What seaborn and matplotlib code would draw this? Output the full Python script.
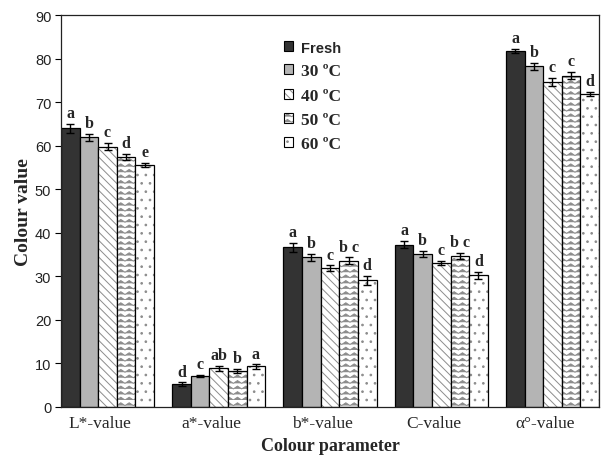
import warnings
warnings.filterwarnings("ignore")
import numpy as np
import pandas as pd
import matplotlib
matplotlib.use("Agg")
import matplotlib.pyplot as plt
from matplotlib import hatch as mhatch
from matplotlib.path import Path
from matplotlib.patches import Patch
import matplotlib.colors as mcolors
import seaborn as sns

# ---------------- data ----------------
parameters = ["L*-value", "a*-value", "b*-value", "C-value", "α°-value"]
treatments = ["Fresh", "30 ºC", "40 ºC", "50 ºC", "60 ºC"]
fresh_vals = [64.0, 5.3, 36.7, 37.3, 81.7]
t30_vals = [61.9, 7.1, 34.4, 35.2, 78.2]
t40_vals = [59.8, 8.9, 31.9, 33.1, 74.7]
t50_vals = [57.5, 8.3, 33.6, 34.7, 76.1]
t60_vals = [55.5, 9.3, 29.1, 30.3, 71.9]
fresh_err = [1.0, 0.4, 1.0, 0.9, 0.5]
t30_err = [0.8, 0.3, 0.8, 0.7, 0.8]
t40_err = [0.9, 0.6, 0.6, 0.5, 0.9]
t50_err = [0.7, 0.5, 0.8, 0.7, 0.9]
t60_err = [0.5, 0.5, 1.0, 0.8, 0.4]
fresh_let = ["a", "d", "a", "a", "a"]
t30_let = ["b", "c", "b", "b", "b"]
t40_let = ["c", "ab", "c", "c", "c"]
t50_let = ["d", "b", "b c", "b c", "c"]
t60_let = ["e", "a", "d", "d", "d"]
y_ticks = [0, 10, 20, 30, 40, 50, 60, 70, 80, 90]

values = [fresh_vals, t30_vals, t40_vals, t50_vals, t60_vals]
errors = [fresh_err, t30_err, t40_err, t50_err, t60_err]
letters = [fresh_let, t30_let, t40_let, t50_let, t60_let]

df = pd.DataFrame({
    "parameter": [p for _ in treatments for p in parameters],
    "treatment": [t for t in treatments for _ in parameters],
    "value": [v for vals in values for v in vals],
})


# ---------------- custom zig-zag hatch ----------------
class ZigZagHatch(mhatch.HatchPatternBase):
    def __init__(self, hatch, density):
        self.num_lines = int(hatch.count("z") * density)
        self.npts = 25
        self.num_vertices = self.num_lines * self.npts

    def set_vertices_and_codes(self, vertices, codes):
        n = self.num_lines
        xs = np.linspace(0, 1, self.npts)
        amp = 0.5 / n
        idx = 0
        for k in range(n):
            y0 = k / n
            for j, x in enumerate(xs):
                vertices[idx] = (x, y0 + (amp if j % 2 else 0.0))
                codes[idx] = Path.MOVETO if j == 0 else Path.LINETO
                idx += 1


mhatch._hatch_types.append(ZigZagHatch)

# ---------------- styling ----------------
sns.set_theme(style="white")
plt.rcParams["font.family"] = ["Liberation Serif", "DejaVu Serif"]
plt.rcParams["hatch.linewidth"] = 0.7

face = {"Fresh": "#333333", "30 ºC": "#b4b4b4", "40 ºC": "white",
        "50 ºC": "white", "60 ºC": "white"}
hatches = {"Fresh": "", "30 ºC": "", "40 ºC": "\\\\\\\\",
           "50 ºC": "zzz", "60 ºC": ".."}
hatch_col = mcolors.to_rgba("#8c8c8c")

fig = plt.figure(figsize=(6.02, 4.60), dpi=100)
ax = fig.add_axes([61 / 602, 52 / 460, 538 / 602, 392 / 460])

sns.barplot(data=df, x="parameter", y="value", hue="treatment",
            order=parameters, hue_order=treatments, palette=face,
            width=0.836, edgecolor="black", linewidth=0.9,
            errorbar=None, ax=ax, legend=False)

for cont, tr, errs, lets in zip(ax.containers, treatments, errors, letters):
    xs, ys = [], []
    for bar in cont:
        bar.set_hatch(hatches[tr])
        bar._hatch_color = hatch_col
        xs.append(bar.get_x() + bar.get_width() / 2)
        ys.append(bar.get_height())
    ax.errorbar(xs, ys, yerr=errs, fmt="none", ecolor="black",
                elinewidth=1.0, capsize=2.9, capthick=1.0, zorder=5)
    for x, y, e, l in zip(xs, ys, errs, lets):
        ax.text(x, y + e + 0.6, l, ha="center", va="bottom",
                fontsize=11.5, fontweight="bold", family="Liberation Serif")

ax.set_xlim(-0.418, 4.418)
ax.set_ylim(0, 90)
ax.set_yticks(y_ticks)
ax.set_yticklabels([str(t) for t in y_ticks], family="Liberation Sans",
                   fontsize=10.5, color="#222222")
ax.set_xticks(np.arange(len(parameters)) - 0.07)
ax.set_xticklabels(parameters, fontsize=12.5, family="Liberation Serif")
ax.tick_params(axis="y", direction="out", length=4, width=0.8, left=True,
               color="black", pad=3)
ax.tick_params(axis="x", length=0, pad=6)

for s in ax.spines.values():
    s.set_color("#222222")
    s.set_linewidth(0.9)

ax.set_ylabel("Colour value", fontsize=14, fontweight="bold",
              family="Liberation Serif", labelpad=2)
ax.set_xlabel("Colour parameter", fontsize=13, fontweight="bold",
              family="Liberation Serif", labelpad=4)

handles = []
for t in treatments:
    p = Patch(facecolor=face[t], edgecolor="black", hatch=hatches[t],
              linewidth=0.8)
    p._hatch_color = hatch_col
    handles.append(p)
leg = ax.legend(handles, treatments, loc="upper left",
                bbox_to_anchor=(277 / 602, 1 - 35 / 460),
                bbox_transform=fig.transFigure, frameon=False,
                borderaxespad=0.0,
                handlelength=0.5, handleheight=0.5, handletextpad=0.5,
                labelspacing=0.48, prop={"family": "Liberation Serif",
                                         "weight": "bold", "size": 12.5})
leg.get_texts()[0].set_family("Liberation Sans")
leg.get_texts()[0].set_fontsize(10.5)

fig.savefig("out.png", dpi=100)
